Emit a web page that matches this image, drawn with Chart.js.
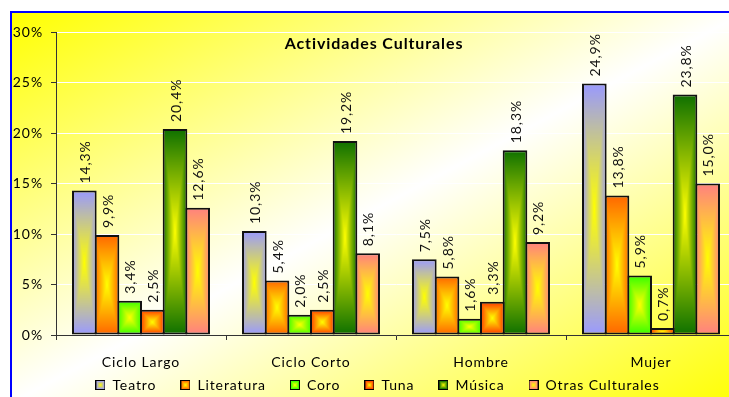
<!DOCTYPE html>
<html>
<head>
<meta charset="utf-8">
<script src="https://cdn.jsdelivr.net/npm/chart.js@4/dist/chart.umd.min.js"></script>
<style>
html, body { margin: 0; padding: 0; overflow: hidden; background: #fff; }
canvas { display: block; }
</style>
</head>
<body>
<canvas id="chartCanvas" width="750" height="397"></canvas>
<script>
const categories = ["Ciclo Largo", "Ciclo Corto", "Hombre", "Mujer"]
const seriesNames = ["Teatro", "Literatura", "Coro", "Tuna", "Música", "Otras Culturales"]

const teatro = [14.3, 10.3, 7.5, 24.9]
const literatura = [9.9, 5.4, 5.8, 13.8]
const coro = [3.4, 2.0, 1.6, 5.9]
const tuna = [2.5, 2.5, 3.3, 0.7]
const musica = [20.4, 19.2, 18.3, 23.8]
const otras = [12.6, 8.1, 9.2, 15.0]

const yTicks = [0, 5, 10, 15, 20, 25, 30]

// outer colour of each series, the middle of every bar fades to yellow
const edgeColors = ["#9999FF", "#FF6600", "#33FF00", "#FF3300", "#0E7000", "#FF8080"]

const FONT = "Lato, 'Open Sans', sans-serif"

function hexRgb(hex){
    const n = parseInt(hex.slice(1), 16)
    return [(n >> 16) & 255, (n >> 8) & 255, n & 255]
}

// rectangle filled from the centre: yellow in the middle, edge colour at the sides
function centerFill(edge, w, h){
    const cw = Math.max(1, Math.ceil(w))
    const ch = Math.max(1, Math.ceil(h))
    const c = document.createElement("canvas")
    c.width = cw
    c.height = ch
    const g = c.getContext("2d")
    const img = g.createImageData(cw, ch)
    const [er, eg, eb] = hexRgb(edge)
    const hw = w / 2, hh = h / 2
    for(let y = 0; y < ch; y++){
        for(let x = 0; x < cw; x++){
            const t = Math.min(1, Math.max(Math.abs(x + 0.5 - hw) / hw, Math.abs(y + 0.5 - hh) / hh))
            const i = (y * cw + x) * 4
            img.data[i] = 255 + (er - 255) * t
            img.data[i + 1] = 255 + (eg - 255) * t
            img.data[i + 2] = eb * t
            img.data[i + 3] = 255
        }
    }
    g.putImageData(img, 0, 0)
    return c
}

function legendMark(edge){
    const c = document.createElement("canvas")
    c.width = 10
    c.height = 10
    const g = c.getContext("2d")
    g.drawImage(centerFill(edge, 8, 8), 1, 1)
    g.strokeStyle = "#000"
    g.lineWidth = 1
    g.strokeRect(0.5, 0.5, 9, 9)
    return c
}

const legendMarks = edgeColors.map(legendMark)

function pct(v){
    return v.toFixed(1).replace(".", ",") + "%"
}

const spacing = {
    id: "spacing",
    beforeUpdate(chart){ chart.ctx.letterSpacing = "0.9px" },
    beforeDraw(chart){ chart.ctx.letterSpacing = "0.9px" }
}

// legend sits closer to the category labels than its padding allows
const legendShift = {
    id: "legendShift",
    afterLayout(chart){
        const lg = chart.legend
        lg.top -= 17
        lg.bottom -= 17
        lg.left += 4
        lg.right += 4
    }
}

// yellow diagonal background inside the blue frame
const frame = {
    id: "frame",
    beforeDraw(chart){
        const ctx = chart.ctx
        const left = 11, top = 12, right = 746, bottom = 403
        ctx.save()
        ctx.fillStyle = "#fff"
        ctx.fillRect(0, 0, chart.width, chart.height)
        ctx.save()
        ctx.translate(left, top)
        ctx.scale(right - left, bottom - top)
        const grad = ctx.createLinearGradient(0, 0, 1, 1)
        grad.addColorStop(0, "#FFFF00")
        grad.addColorStop(0.5, "#FFFFFF")
        grad.addColorStop(1, "#FFFF00")
        ctx.fillStyle = grad
        ctx.fillRect(0, 0, 1, 1)
        ctx.restore()
        ctx.strokeStyle = "#0000FF"
        ctx.lineWidth = 2
        ctx.strokeRect(left, top, right - left, bottom - top)
        ctx.restore()
    }
}

// give every bar its own centre gradient, sized to the bar
const barFill = {
    id: "barFill",
    beforeDatasetsDraw(chart){
        chart.data.datasets.forEach((ds, i) => {
            chart.getDatasetMeta(i).data.forEach(bar => {
                const {x, y, base, width} = bar.getProps(["x", "y", "base", "width"], true)
                const left = x - width / 2
                const top = Math.min(y, base)
                const h = Math.abs(base - y)
                const pat = chart.ctx.createPattern(centerFill(edgeColors[i], width, h), "no-repeat")
                pat.setTransform(new DOMMatrix([1, 0, 0, 1, left, top]))
                bar.options = Object.assign({}, bar.options, {backgroundColor: pat})
            })
        })
    }
}

const valueLabels = {
    id: "valueLabels",
    afterDatasetsDraw(chart){
        const ctx = chart.ctx
        ctx.save()
        ctx.font = "14px " + FONT
        ctx.fillStyle = "#111"
        ctx.textAlign = "left"
        ctx.textBaseline = "middle"
        chart.data.datasets.forEach((ds, i) => {
            chart.getDatasetMeta(i).data.forEach((bar, j) => {
                ctx.save()
                ctx.translate(bar.x + 1, bar.y - 7)
                ctx.rotate(-Math.PI / 2)
                ctx.fillText(pct(ds.data[j]), 0, 0)
                ctx.restore()
            })
        })
        ctx.restore()
    }
}

const chartTitle = {
    id: "chartTitle",
    afterDraw(chart){
        const ctx = chart.ctx
        ctx.save()
        ctx.font = "bold 16px " + FONT
        ctx.fillStyle = "#000"
        ctx.textAlign = "center"
        ctx.textBaseline = "middle"
        ctx.fillText("Actividades Culturales", 374, 44)
        ctx.restore()
    }
}

const seriesValues = [teatro, literatura, coro, tuna, musica, otras]

new Chart(document.getElementById("chartCanvas"), {
    type: "bar",
    data: {
        labels: categories,
        datasets: seriesNames.map((name, i) => ({
            label: name,
            data: seriesValues[i],
            backgroundColor: edgeColors[i],
            borderColor: "#111",
            borderWidth: 2,
            borderSkipped: false,
            // bars overlap by one border so neighbours share a single edge
            categoryPercentage: 0.8,
            barPercentage: 1.087
        }))
    },
    options: {
        responsive: false,
        animation: false,
        devicePixelRatio: 1,
        layout: {padding: {left: 11, right: 14, top: 32, bottom: -22}},
        plugins: {
            title: {display: false},
            tooltip: {enabled: false},
            legend: {
                position: "bottom",
                labels: {
                    usePointStyle: true,
                    boxWidth: 10,
                    boxHeight: 10,
                    padding: 24,
                    color: "#000",
                    font: {family: FONT, size: 14},
                    generateLabels: chart =>
                        Chart.defaults.plugins.legend.labels.generateLabels(chart)
                            .map((item, i) => Object.assign(item, {pointStyle: legendMarks[i]}))
                }
            }
        },
        scales: {
            x: {
                offset: true,
                grid: {offset: true, drawOnChartArea: false, tickLength: 5, color: "#333"},
                border: {color: "#333", width: 1},
                ticks: {color: "#000", padding: 14, font: {family: FONT, size: 14}},
                afterFit: s => { s.height = 36 }
            },
            y: {
                min: 0,
                max: 30,
                grid: {
                    color: c => c.tick && c.tick.value === 0 ? "rgba(0,0,0,0)" : "#FFFFFF",
                    tickColor: "#333",
                    tickLength: 5
                },
                border: {color: "#333", width: 1},
                ticks: {color: "#000", padding: 8, font: {family: FONT, size: 14}, callback: v => v + "%"},
                afterBuildTicks: s => { s.ticks = yTicks.map(v => ({value: v})) },
                afterFit: s => { s.width = 45 }
            }
        }
    },
    plugins: [spacing, legendShift, frame, barFill, valueLabels, chartTitle]
})
</script>
</body>
</html>
